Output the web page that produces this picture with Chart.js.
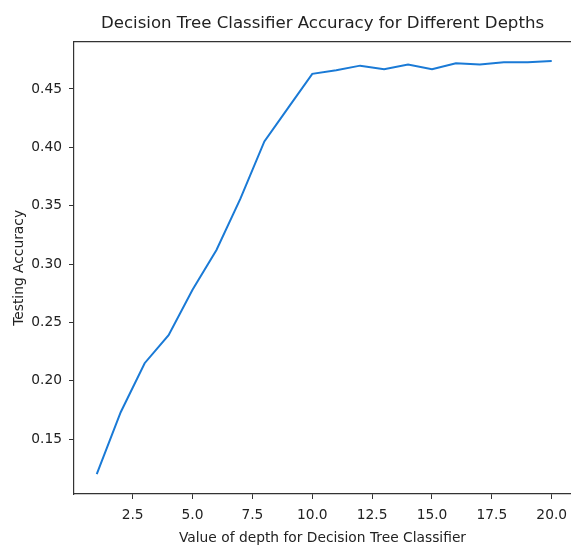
<!DOCTYPE html>
<html>
<head>
    <title>Decision Tree Classifier Accuracy</title>
    <style>
        body {margin: 0; background: #fff;}
        #chart {display: block;}
    </style>
    <script src="https://cdn.jsdelivr.net/npm/chart.js"></script>
</head>
<body>
    <canvas id="chart" width="571" height="547"></canvas>

<script>
    // values
    var depths = [1, 2, 3, 4, 5, 6, 7, 8, 9, 10, 11, 12, 13, 14, 15, 16, 17, 18, 19, 20];
    var accuracy = [0.120, 0.173, 0.215, 0.239, 0.278, 0.312, 0.356, 0.405, 0.434, 0.463,
                    0.466, 0.470, 0.467, 0.471, 0.467, 0.472, 0.471, 0.473, 0.473, 0.474];
    var xTicks = [2.5, 5.0, 7.5, 10.0, 12.5, 15.0, 17.5, 20.0];
    var yTicks = [0.15, 0.20, 0.25, 0.30, 0.35, 0.40, 0.45];

    var ink = '#222';
    var font = 'DejaVu Sans';

    var ctx = document.getElementById('chart').getContext('2d');
    var chart = new Chart(ctx, {
        type: 'line',
        data: {
            datasets: [{
                data: depths.map(function(d, i) { return {x: d, y: accuracy[i]}; }),
                borderColor: '#1a7ad6',
                borderWidth: 2,
                pointRadius: 0,
                tension: 0,
                fill: false
            }]
        },
        options: {
            responsive: false,
            animation: false,
            devicePixelRatio: 1,
            layout: {padding: 0},
            plugins: {
                legend: {display: false},
                tooltip: {enabled: false},
                title: {display: false}
            },
            scales: {
                x: {
                    type: 'linear',
                    position: 'bottom',
                    min: 0.05,
                    max: 20.805,
                    afterBuildTicks: function(scale) {
                        scale.ticks = xTicks.map(function(v) { return {value: v}; });
                    },
                    afterFit: function(scale) {
                        scale.height = 53;
                        scale.paddingLeft = 0;
                        scale.paddingRight = 0;
                    },
                    ticks: {
                        color: ink,
                        font: {family: font, size: 13.8},
                        padding: 8,
                        maxRotation: 0,
                        autoSkip: false,
                        callback: function(v) { return Number(v).toFixed(1); }
                    },
                    grid: {display: true, drawOnChartArea: false, drawTicks: true, tickLength: 5, color: '#333', lineWidth: 1},
                    border: {display: true, color: '#333', width: 1.2},
                    title: {
                        display: true,
                        text: 'Value of depth for Decision Tree Classifier',
                        color: ink,
                        font: {family: font, size: 13.8},
                        padding: {top: 0, bottom: 0}
                    }
                },
                x2: {
                    type: 'linear',
                    position: 'top',
                    ticks: {display: false},
                    grid: {display: false, drawTicks: false},
                    border: {display: true, color: '#333', width: 1.2},
                    afterFit: function(scale) {
                        scale.paddingLeft = 0;
                        scale.paddingRight = 0;
                    },
                    title: {
                        display: true,
                        text: 'Decision Tree Classifier Accuracy for Different Depths',
                        color: ink,
                        font: {family: font, size: 16.6},
                        padding: {top: 13.8, bottom: 8}
                    }
                },
                y: {
                    type: 'linear',
                    min: 0.1029,
                    max: 0.4905,
                    afterBuildTicks: function(scale) {
                        scale.ticks = yTicks.map(function(v) { return {value: v}; });
                    },
                    afterFit: function(scale) {
                        scale.width = 74;
                        scale.paddingTop = 0;
                        scale.paddingBottom = 0;
                    },
                    ticks: {
                        color: ink,
                        font: {family: font, size: 13.8},
                        padding: 7,
                        autoSkip: false,
                        callback: function(v) { return Number(v).toFixed(2); }
                    },
                    grid: {display: true, drawOnChartArea: false, drawTicks: true, tickLength: 5, color: '#333', lineWidth: 1},
                    border: {display: true, color: '#333', width: 1.2},
                    title: {
                        display: true,
                        text: 'Testing Accuracy',
                        color: ink,
                        font: {family: font, size: 13.8},
                        padding: {top: 11, bottom: 0}
                    }
                }
            }
        }
    });
</script>
</body>
</html>
